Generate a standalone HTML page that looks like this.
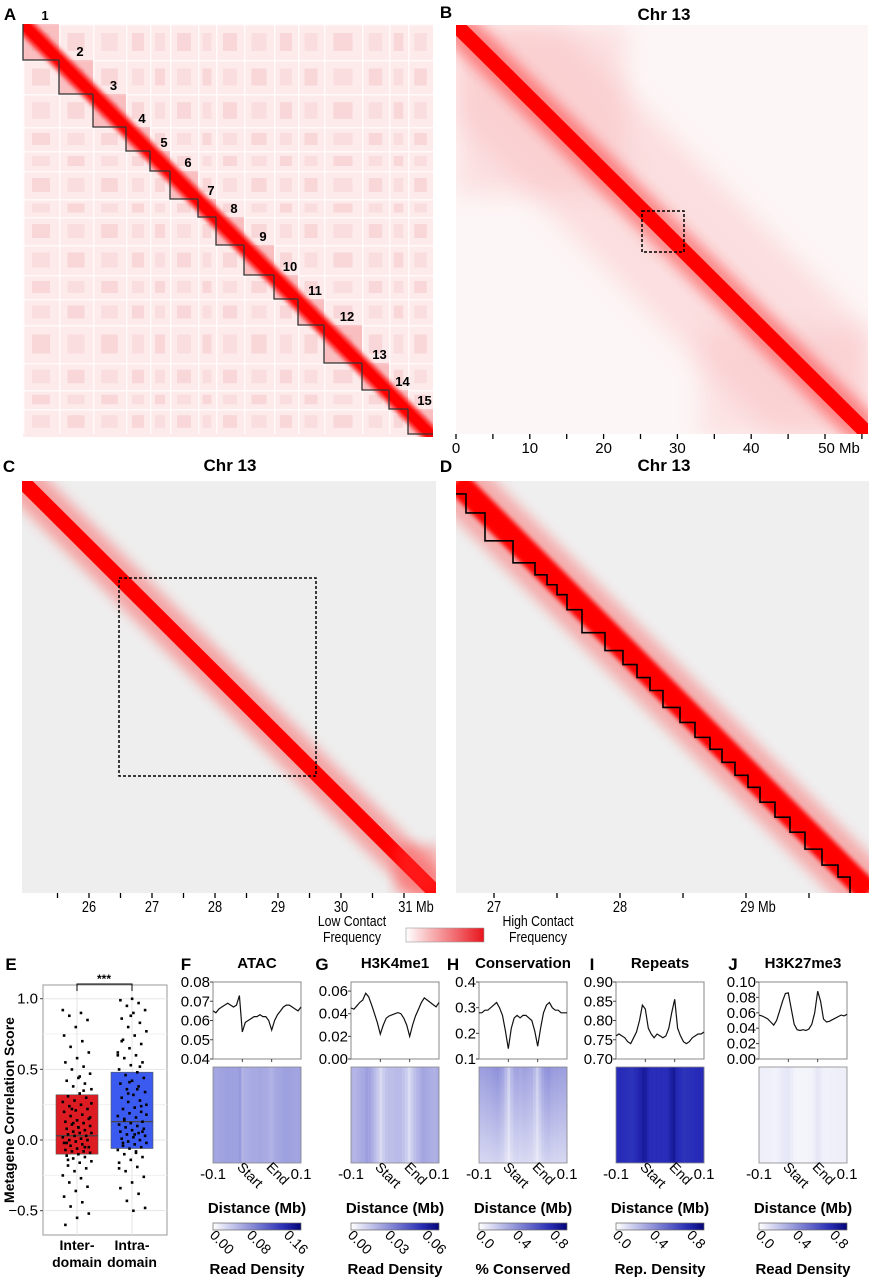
<!DOCTYPE html>
<html><head><meta charset="utf-8">
<style>
html,body{margin:0;padding:0;background:#fff;}
svg{display:block;font-family:"Liberation Sans",Arial,sans-serif;}
</style></head>
<body>
<svg id="fig" width="875" height="1280" viewBox="0 0 875 1280" xmlns="http://www.w3.org/2000/svg">
<defs>
<filter id="blur2" x="-20%" y="-20%" width="140%" height="140%"><feGaussianBlur stdDeviation="2"/></filter>
<filter id="blur6" x="-20%" y="-20%" width="140%" height="140%"><feGaussianBlur stdDeviation="6"/></filter>
<filter id="blur12" x="-20%" y="-20%" width="140%" height="140%"><feGaussianBlur stdDeviation="12"/></filter>
<linearGradient id="redLeg" x1="0" x2="1"><stop offset="0" stop-color="#fff"/><stop offset="1" stop-color="#e8141c"/></linearGradient>
<linearGradient id="blueLeg" x1="0" x2="1"><stop offset="0" stop-color="#fff"/><stop offset="0.8" stop-color="#2a2fb5"/><stop offset="1" stop-color="#050578"/></linearGradient>
<linearGradient id="consFade" x1="0" y1="0" x2="0" y2="1"><stop offset="0" stop-color="#fff" stop-opacity="0"/><stop offset="1" stop-color="#fff" stop-opacity="0.6"/></linearGradient>
<clipPath id="clipA"><rect x="23" y="24" width="410" height="413"/></clipPath>
<clipPath id="clipB"><rect x="456" y="25" width="412" height="409"/></clipPath>
<clipPath id="clipC"><rect x="22" y="481" width="414" height="412"/></clipPath>
<clipPath id="clipD"><rect x="456" y="481" width="413" height="412"/></clipPath>
</defs>
<g id="root"></g>
</svg>
<script>
// ---------- DATA ----------
const domainEdgesA = [23,59,93,126,150,170,198,216,244,274,298,324,362,389,408,433];
const bTickLabels = ["0","10","20","30","40","50 Mb"];
const bTickValues = [0,10,20,30,40,50];
const cTickLabels = ["26","27","28","29","30","31 Mb"];
const cTickValues = [26,27,28,29,30,31];
const dTickLabels = ["27","28","29 Mb"];
const dTickValues = [27,28,29];
const dDomainEdges = [466,485,513,535,547,557,567,582,605,623,637,650,663,680,695,710,722,735,748,760,775,790,805,822,838,850,869];

const eCategories = ["Inter-|domain","Intra-|domain"];
const eQ1 = [-0.10,-0.06];
const eMedian = [0.03,0.13];
const eQ3 = [0.32,0.48];
const eInterPoints = [0.92,0.90,0.88,0.85,0.80,0.74,0.70,0.66,0.62,0.58,0.55,0.52,0.50,0.47,0.44,0.42,0.40,0.38,0.36,0.33,0.31,0.30,0.28,0.27,0.25,0.24,0.22,0.21,0.20,0.18,0.17,0.15,0.14,0.13,0.12,0.11,0.10,0.09,0.08,0.07,0.06,0.05,0.05,0.04,0.03,0.03,0.02,0.01,0.00,0.00,-0.01,-0.02,-0.03,-0.04,-0.05,-0.06,-0.07,-0.08,-0.08,-0.09,-0.10,-0.11,-0.12,-0.13,-0.15,-0.16,-0.18,-0.20,-0.22,-0.25,-0.27,-0.30,-0.33,-0.36,-0.40,-0.44,-0.47,-0.52,-0.55,-0.60,0.35,0.22,0.16,0.09,-0.02,-0.05,0.12,0.26,0.45,-0.14];
const eIntraPoints = [1.00,0.99,0.97,0.95,0.92,0.90,0.86,0.83,0.80,0.77,0.74,0.71,0.68,0.65,0.62,0.60,0.58,0.55,0.53,0.50,0.48,0.46,0.44,0.42,0.40,0.38,0.36,0.34,0.32,0.30,0.28,0.27,0.25,0.23,0.22,0.20,0.19,0.17,0.16,0.14,0.13,0.12,0.11,0.10,0.09,0.08,0.07,0.06,0.05,0.04,0.03,0.02,0.01,0.00,-0.01,-0.02,-0.03,-0.04,-0.05,-0.06,-0.07,-0.08,-0.10,-0.12,-0.14,-0.16,-0.19,-0.22,-0.26,-0.30,-0.34,-0.38,-0.43,-0.48,-0.50,0.70,0.52,0.33,0.18,0.04,-0.02,0.24,0.41,0.60,-0.09,0.15,0.06,0.88,-0.20,0.36];
const eYTicks = [1.0,0.5,0.0,-0.5];

const profTitles = ["ATAC","H3K4me1","Conservation","Repeats","H3K27me3"];
const profLetters = ["F","G","H","I","J"];
const atacValues = [0.065,0.064,0.066,0.067,0.068,0.069,0.068,0.067,0.068,0.073,0.054,0.059,0.060,0.061,0.062,0.062,0.063,0.062,0.062,0.060,0.055,0.060,0.063,0.065,0.067,0.068,0.068,0.067,0.066,0.065,0.067];
const h3k4me1Values = [0.045,0.044,0.047,0.050,0.052,0.058,0.055,0.048,0.040,0.032,0.022,0.030,0.036,0.038,0.039,0.040,0.041,0.040,0.036,0.030,0.020,0.030,0.038,0.044,0.050,0.054,0.052,0.050,0.048,0.046,0.050];
const conservationValues = [0.28,0.28,0.29,0.29,0.30,0.31,0.32,0.30,0.27,0.21,0.14,0.22,0.26,0.27,0.26,0.27,0.27,0.26,0.25,0.21,0.15,0.22,0.28,0.31,0.32,0.30,0.29,0.29,0.28,0.28,0.28];
const repeatsValues = [0.76,0.765,0.76,0.755,0.745,0.74,0.755,0.77,0.80,0.84,0.83,0.78,0.765,0.755,0.765,0.76,0.755,0.76,0.78,0.82,0.855,0.78,0.76,0.745,0.74,0.745,0.755,0.76,0.765,0.765,0.77];
const h3k27me3Values = [0.057,0.056,0.054,0.052,0.048,0.044,0.050,0.062,0.075,0.085,0.086,0.065,0.045,0.038,0.037,0.038,0.037,0.039,0.045,0.060,0.088,0.075,0.052,0.048,0.049,0.051,0.053,0.055,0.057,0.056,0.058];
const profMin = [0.04,0.0,0.1,0.70,0.0];
const profMax = [0.08,0.068,0.4,0.90,0.10];
const profTickLabels = [["0.04","0.05","0.06","0.07","0.08"],["0.00","0.02","0.04","0.06"],["0.1","0.2","0.3","0.4"],["0.70","0.75","0.80","0.85","0.90"],["0.00","0.02","0.04","0.06","0.08","0.10"]];
const profTickValues = [[0.04,0.05,0.06,0.07,0.08],[0,0.02,0.04,0.06],[0.1,0.2,0.3,0.4],[0.70,0.75,0.80,0.85,0.90],[0,0.02,0.04,0.06,0.08,0.10]];
const cbarLabels = [["0.00","0.08","0.16"],["0.00","0.03","0.06"],["0.0","0.4","0.8"],["0.0","0.4","0.8"],["0.0","0.4","0.8"]];
const cbarValues = [[0,0.08,0.16],[0,0.03,0.06],[0,0.4,0.8],[0,0.4,0.8],[0,0.4,0.8]];
const cbarMax = [0.19,0.071,0.95,0.95,0.95];
const cbarTitles = ["Read Density","Read Density","% Conserved","Rep. Density","Read Density"];

// ---------- HELPERS ----------
const NS="http://www.w3.org/2000/svg";
const root=document.getElementById('root');
function mk(tag,attrs,parent,text){
  const e=document.createElementNS(NS,tag);
  for(const k in attrs)e.setAttribute(k,attrs[k]);
  if(text!==undefined)e.textContent=text;
  (parent||root).appendChild(e);return e;
}
function txt(x,y,s,size,opts,parent,name){
  opts=opts||{};
  const t=mk('text',Object.assign({x:x,y:y,'font-size':size,'text-anchor':opts.anchor||'middle','font-weight':opts.bold?'bold':'normal',fill:'#000'},opts.extra||{}),parent,s);
  
  
  return t;
}

// ---------- PANEL A ----------
const gA=mk('g',{'clip-path':'url(#clipA)'});


mk('rect',{x:23,y:24,width:410,height:413,fill:'#fdeaea'},gA);
for(let i=0;i<domainEdgesA.length-1;i++){
  for(let j=0;j<domainEdgesA.length-1;j++){
    const x0=domainEdgesA[i],x1=domainEdgesA[i+1],y0=domainEdgesA[j]+1,y1=domainEdgesA[j+1]+1;
    const w=x1-x0,h=y1-y0;
    mk('rect',{x:x0+w*0.25,y:y0+h*0.25,width:w*0.5,height:h*0.5,fill:'#f2a9ad',opacity:((i+j)%2?0.3:0.2)},gA);
    mk('rect',{x:x0,y:y0,width:1.5,height:h,fill:'#fff',opacity:0.7},gA);
    mk('rect',{x:x0,y:y0,width:w,height:1.5,fill:'#fff',opacity:0.7},gA);
  }
}
for(let i=0;i<domainEdgesA.length-1;i++){
  const x0=domainEdgesA[i],x1=domainEdgesA[i+1];
  mk('rect',{x:x0,y:x0+1,width:x1-x0,height:x1-x0,fill:'#f26d72',opacity:0.35},gA);
}
mk('line',{x1:23,y1:24,x2:433,y2:437,stroke:'#ff1010',"stroke-width":16,filter:'url(#blur2)'},gA);
mk('line',{x1:23,y1:24,x2:433,y2:437,stroke:'#ff0000',"stroke-width":9},gA);
for(let i=0;i<domainEdgesA.length-1;i++){
  const x0=domainEdgesA[i],x1=domainEdgesA[i+1];
  const p=mk('polyline',{points:`${x0},${x0+1} ${x0},${x1+1} ${x1},${x1+1}`,fill:'none',stroke:'#333',"stroke-width":1.3});
  
  
  txt((x0+x1)/2+4,x0-3,String(i+1),13,{bold:true},null,'domain-label');
}
txt(10,20,"A",17,{bold:true},null,'panel-letter-a');

function diagMap(id,clip,x0,y0,x1,y1,bg){
  const g=mk('g',{'clip-path':'url(#'+clip+')'});
  
  
  mk('rect',{x:x0,y:y0,width:x1-x0,height:y1-y0,fill:bg},g);
  return g;
}

// ---------- PANEL B ----------
const gB=diagMap('heatmap-b','clipB',456,25,868,434,'#fdf6f6');
mk('rect',{x:456,y:25,width:170,height:170,fill:'#f9c6c8',opacity:0.45,filter:'url(#blur12)'},gB);
mk('rect',{x:700,y:330,width:170,height:110,fill:'#f9c6c8',opacity:0.4,filter:'url(#blur12)'},gB);
mk('polygon',{points:'456,25 560,25 868,330 868,434 770,434 456,120',fill:'#f9b3b6',opacity:0.35,filter:'url(#blur12)'},gB);
mk('line',{x1:456,y1:25,x2:868,y2:434,stroke:'#ff2020',"stroke-width":34,opacity:0.45,filter:'url(#blur6)'},gB);
mk('line',{x1:456,y1:25,x2:868,y2:434,stroke:'#ff0000',"stroke-width":15},gB);
const bx=v=>456+v*(825-456)/50;
mk('rect',{x:642,y:211,width:42,height:41,fill:'none',stroke:'#000',"stroke-width":1.5,"stroke-dasharray":"3,2"});
for(let v=0;v<=55;v+=5){ if(bx(v)>869)break; mk('line',{x1:bx(v),y1:434,x2:bx(v),y2:439,stroke:'#000',"stroke-width":1.3}); }
bTickValues.forEach((v,i)=>txt(bx(v)+(i==5?14:0),453,bTickLabels[i],15,{},null,'x-tick-b'));
txt(664,20,"Chr 13",17,{bold:true},null,'title-b');
txt(446,18,"B",17,{bold:true},null,'panel-letter-b');

// ---------- PANEL C ----------
const gC=diagMap('heatmap-c','clipC',22,481,436,893,'#eeeeee');
mk('line',{x1:22,y1:481,x2:436,y2:893,stroke:'#ff3030',"stroke-width":38,opacity:0.4,filter:'url(#blur6)'},gC);
mk('line',{x1:22,y1:481,x2:436,y2:893,stroke:'#ff0000',"stroke-width":15},gC);
mk('rect',{x:395,y:845,width:45,height:50,fill:'#ff4040',opacity:0.35,filter:'url(#blur6)'},gC);
mk('rect',{x:119,y:578,width:197,height:198,fill:'none',stroke:'#000',"stroke-width":1.5,"stroke-dasharray":"3,2"});
const cx=v=>89+(v-26)*63;
for(let v=25.5;v<=31.1;v+=0.5){ mk('line',{x1:cx(v),y1:893,x2:cx(v),y2:898,stroke:'#000',"stroke-width":1.3}); }
cTickValues.forEach((v,i)=>{const X=cx(v)+(i==5?12:0);txt(X,912,cTickLabels[i],16,{extra:{transform:`translate(${X},912) scale(0.8,1) translate(${-X},-912)`}},null,'x-tick-c');});
txt(230,471,"Chr 13",17,{bold:true},null,'title-c');
txt(9,472,"C",17,{bold:true},null,'panel-letter-c');

// ---------- PANEL D ----------
const gD=diagMap('heatmap-d','clipD',456,481,869,893,'#efefef');
mk('line',{x1:456,y1:481,x2:869,y2:893,stroke:'#ff3030',"stroke-width":55,opacity:0.35,filter:'url(#blur6)'},gD);
mk('line',{x1:456,y1:481,x2:869,y2:893,stroke:'#ff0000',"stroke-width":24,filter:'url(#blur2)'},gD);
const dd=x=>481+(x-456)*(893-481)/(869-456)+3;
let pts=`456,${dd(dDomainEdges[0])}`;
dDomainEdges.forEach((b,k)=>{const y=dd(b);pts+=` ${b},${y}`;const ny=k+1<dDomainEdges.length?dd(dDomainEdges[k+1]):893;pts+=` ${b},${ny}`;});
const st=mk('polyline',{points:pts,fill:'none',stroke:'#000',"stroke-width":1.6},gD);


const dx=v=>494+(v-27)*126;
for(let v=27;v<=29.6;v+=0.5){ mk('line',{x1:dx(v),y1:893,x2:dx(v),y2:898,stroke:'#000',"stroke-width":1.3}); }
dTickValues.forEach((v,i)=>{const X=dx(v)+(i==2?12:0);txt(X,912,dTickLabels[i],16,{extra:{transform:`translate(${X},912) scale(0.8,1) translate(${-X},-912)`}},null,'x-tick-d');});
txt(664,471,"Chr 13",17,{bold:true},null,'title-d');
txt(446,472,"D",17,{bold:true},null,'panel-letter-d');

// legend
const lg=[["Low Contact",352,926],["Frequency",352,942],["High Contact",538,926],["Frequency",538,942]];
lg.forEach(l=>txt(l[1],l[2],l[0],15,{extra:{transform:`translate(${l[1]},${l[2]}) scale(0.82,1) translate(${-l[1]},${-l[2]})`}},null,'contact-legend-text'));
const lr=mk('rect',{x:406,y:928,width:78,height:14,fill:'url(#redLeg)',stroke:'#999',"stroke-width":0.6});


// ---------- PANEL E ----------
const eTop=985,eBot=1235,eL=43,eR=167;
const ey=v=>1140-v*141.3;
mk('rect',{x:eL,y:eTop,width:eR-eL,height:eBot-eTop,fill:'#fff',stroke:'#999',"stroke-width":1});
[0.75,0.25,-0.25].forEach(v=>mk('line',{x1:eL,y1:ey(v),x2:eR,y2:ey(v),stroke:'#f0f0f0',"stroke-width":1}));
eYTicks.forEach(v=>{mk('line',{x1:eL,y1:ey(v),x2:eR,y2:ey(v),stroke:'#e6e6e6',"stroke-width":1});mk('line',{x1:eL-3,y1:ey(v),x2:eL,y2:ey(v),stroke:'#444'});txt(eL-5,ey(v)+5,v.toFixed(1).replace('-','−'),15,{anchor:'end'},null,'y-tick-e');});
const ecx=[77,132];
ecx.forEach(x=>mk('line',{x1:x,y1:eTop,x2:x,y2:eBot,stroke:'#e6e6e6'}));
const cols=['#dc1c22','#3b5bf0'];
[0,1].forEach(i=>{
  const r=mk('rect',{x:ecx[i]-21,y:ey(eQ3[i]),width:42,height:ey(eQ1[i])-ey(eQ3[i]),fill:cols[i],stroke:'#555',"stroke-width":0.6});
  
  mk('line',{x1:ecx[i]-21,y1:ey(eMedian[i]),x2:ecx[i]+21,y2:ey(eMedian[i]),stroke:'#444',"stroke-width":1.3});
});
[eInterPoints,eIntraPoints].forEach((arr,g)=>{
  arr.forEach((v,i)=>{
    const off=(((i*37+g*11)%23)-11)*1.3;
    const p=mk('rect',{x:ecx[g]+off-1.2,y:ey(v)-1.2,width:2.6,height:2.6,fill:'#000'});
    
  });
});
mk('polyline',{points:`77,991 77,984 132,984 132,991`,fill:'none',stroke:'#000',"stroke-width":1});
txt(104,983,"***",12,{bold:true},null,'significance');
eCategories.forEach((c,i)=>{const s=c.split('|');txt(ecx[i],1250,s[0],14,{bold:true},null,'x-category');txt(ecx[i],1267,s[1],14,{bold:true},null,'x-category');});
txt(0,0,"Metagene Correlation Score",14,{bold:true,extra:{transform:'translate(14,1110) rotate(-90)'}},null,'y-axis-title-e');
txt(11,970,"E",17,{bold:true},null,'panel-letter-e');

// ---------- PANELS F-J ----------
const profSeries=[atacValues,h3k4me1Values,conservationValues,repeatsValues,h3k27me3Values];
const heatGain=[1,0.45,1.25,1,1];
const pL=[213,351,479,616,759],pW=88;
const pTop=982,pBot=1059,hTop=1067,hBot=1163;
const letterX=[186,322,453,592,733];
function blue(t){t=Math.max(0,Math.min(1,t));let r,g,b;
  if(t<0.8){const u=t/0.8;r=255+(40-255)*u;g=255+(45-255)*u;b=255+(185-255)*u;}
  else{const u=(t-0.8)/0.2;r=40-35*u;g=45-40*u;b=185-65*u;}
  return `rgb(${r|0},${g|0},${b|0})`;}
profSeries.forEach((vals,k)=>{
  const L=pL[k],R=L+pW;
  const y=v=>pBot-(v-profMin[k])/(profMax[k]-profMin[k])*(pBot-pTop);
  const x=i=>L+i/(vals.length-1)*pW;
  const frame=mk('rect',{x:L,y:pTop,width:pW,height:pBot-pTop,fill:'#fff',stroke:'#888',"stroke-width":1});
  
  profTickValues[k].forEach((tv,j)=>{mk('line',{x1:L-3,y1:y(tv),x2:L,y2:y(tv),stroke:'#444'});txt(L-3,y(tv)+5,profTickLabels[k][j],15,{anchor:'end'},null,'y-tick');});
  [1/3,2/3].forEach(f=>mk('line',{x1:L+f*pW,y1:pBot,x2:L+f*pW,y2:pBot+3,stroke:'#444'}));
  const line=mk('polyline',{points:vals.map((v,i)=>`${x(i).toFixed(1)},${y(v).toFixed(1)}`).join(' '),fill:'none',stroke:'#111',"stroke-width":1.2});
  
  const cw=pW/vals.length;
  vals.forEach((v,i)=>{
    const c=mk('rect',{x:L+i*cw,y:hTop,width:cw+0.3,height:hBot-hTop,fill:blue(v/cbarMax[k]*heatGain[k])});
    
  });
  if(k==2)mk('rect',{x:L,y:hTop,width:pW,height:hBot-hTop,fill:'url(#consFade)'});
  mk('rect',{x:L,y:hTop,width:pW,height:hBot-hTop,fill:'none',stroke:'#888',"stroke-width":0.8});
  txt(L+pW/2,968,profTitles[k],15,{bold:true},null,'panel-title');
  txt(letterX[k],970,profLetters[k],17,{bold:true},null,'panel-letter');
  txt(L,1179,"-0.1",15,{},null,'x-tick');
  txt(R,1179,"0.1",15,{},null,'x-tick');
  txt(0,0,"Start",14,{anchor:'start',extra:{transform:`translate(${L+pW/3-6},1168) rotate(45)`}},null,'x-tick-start');
  txt(0,0,"End",14,{anchor:'start',extra:{transform:`translate(${L+2*pW/3-6},1168) rotate(45)`}},null,'x-tick-end');
  txt(L+pW/2,1213,"Distance (Mb)",15,{bold:true},null,'x-axis-title');
  const cb=mk('rect',{x:L,y:1223,width:pW,height:7,fill:'url(#blueLeg)',stroke:'#666',"stroke-width":0.7});
  
  cbarValues[k].forEach((cv,j)=>{const X=L+cv/cbarMax[k]*pW;
    txt(0,0,cbarLabels[k][j],14,{anchor:'start',extra:{transform:`translate(${X-4},1236) rotate(45)`}},null,'colorbar-tick');});
  txt(L+pW/2,1274,cbarTitles[k],15,{bold:true},null,'colorbar-title');
});
</script>
</body></html>
